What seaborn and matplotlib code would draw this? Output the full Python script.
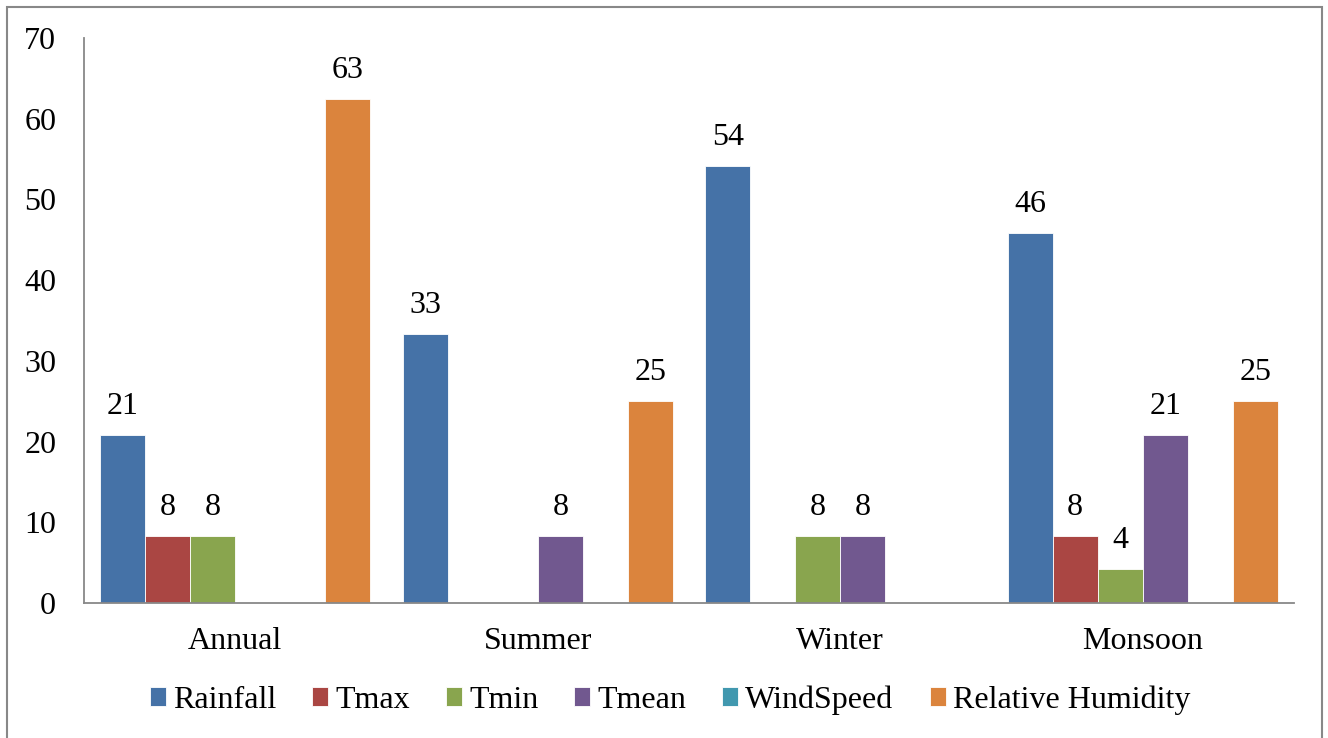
import matplotlib
matplotlib.use("Agg")
import matplotlib.pyplot as plt
from matplotlib.patches import Rectangle
import seaborn as sns
import pandas as pd

seasons = ["Annual", "Summer", "Winter", "Monsoon"]
series = ["Rainfall", "Tmax", "Tmin", "Tmean", "WindSpeed", "Relative Humidity"]
rainfall = [20.8, 33.3, 54.2, 45.8]
tmax = [8.3, 0, 0, 8.3]
tmin = [8.3, 0, 8.3, 4.2]
tmean = [0, 8.3, 8.3, 20.8]
windspeed = [0, 0, 0, 0]
humidity = [62.5, 25.0, 0, 25.0]
colors = ["#4572A7", "#AA4643", "#89A54E", "#71588F", "#4198AF", "#DB843D"]
yticks = [0, 10, 20, 30, 40, 50, 60, 70]

values = [rainfall, tmax, tmin, tmean, windspeed, humidity]
rows = []
for s, vals in zip(series, values):
    for season, v in zip(seasons, vals):
        rows.append({"Season": season, "Series": s, "Value": v})
df = pd.DataFrame(rows)

sns.set_theme(style="white")
plt.rcParams["font.family"] = ["Liberation Serif", "DejaVu Serif"]
plt.rcParams["text.color"] = "black"

FS = 23

fig = plt.figure(figsize=(13.28, 7.38), dpi=100)
ax = fig.add_axes([84 / 1328, 1 - 603 / 738, (1294 - 84) / 1328, (603 - 38) / 738])

sns.barplot(data=df, x="Season", y="Value", hue="Series", order=seasons,
            hue_order=series, palette=colors, saturation=1, width=0.893, ax=ax,
            edgecolor="white", linewidth=0.6, errorbar=None, legend=True)

for cont, vals in zip(ax.containers, values):
    labels = [str(int(v + 0.5)) if v > 0 else "" for v in vals]
    ax.bar_label(cont, labels=labels, padding=10, fontsize=FS, color="black")

ax.set_ylim(0, 70)
ax.set_xlim(-0.5, 3.5)
ax.set_yticks(yticks)
ax.set_yticklabels([str(t) for t in yticks], fontsize=FS)
ax.tick_params(axis="y", length=0, pad=20, labelcolor="black")
ax.tick_params(axis="x", length=0, pad=17, labelsize=FS, labelcolor="black")
ax.set_xlabel("")
ax.set_ylabel("")
for side in ["top", "right"]:
    ax.spines[side].set_visible(False)
for side in ["left", "bottom"]:
    ax.spines[side].set_color("#888888")
    ax.spines[side].set_linewidth(1.3)

handles, labs = ax.get_legend_handles_labels()
ax.legend_.remove()
fig.legend(handles, labs, loc="center", bbox_to_anchor=(670 / 1328, 1 - 700 / 738),
           ncol=6, frameon=False, fontsize=FS, handlelength=0.5, handleheight=0.5,
           handletextpad=0.22, columnspacing=1.13, labelcolor="black")

fig.patches.append(Rectangle((7 / 1328, -0.02), (1322 - 7) / 1328, 1 - 7 / 738 + 0.02,
                             transform=fig.transFigure, fill=False,
                             edgecolor="#888888", linewidth=1.5))

fig.savefig("out.png", dpi=100)
